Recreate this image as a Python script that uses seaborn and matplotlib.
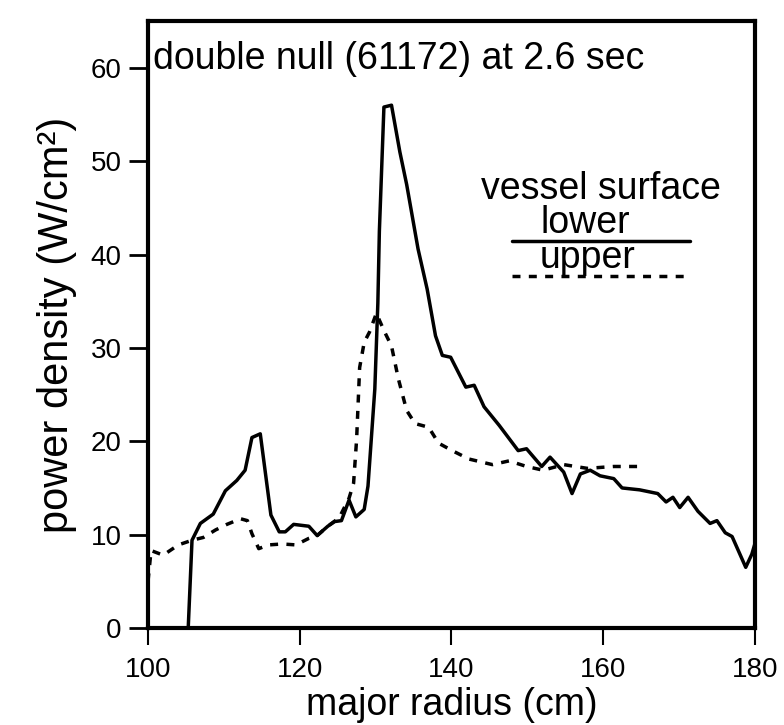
import matplotlib
matplotlib.use('Agg')

import pandas as pd
import seaborn as sns
import matplotlib.pyplot as plt

# lower vessel surface (solid)
lower_r = [105.3, 105.8, 106.9, 108.6, 110.2, 111.7, 112.8, 113.7, 114.8, 116.2,
           117.3, 118.1, 119.2, 121.2, 122.3, 123.7, 124.6, 125.5, 126.5, 127.4,
           128.5, 129.0, 129.9, 130.3, 130.5, 131.1, 132.1, 133.2, 134.1, 135.6,
           136.8, 137.9, 138.8, 139.9, 141.9, 143.0, 144.3, 146.3, 148.8, 149.9,
           151.9, 153.0, 154.8, 155.9, 157.0, 158.3, 159.6, 161.4, 162.5, 164.8,
           167.2, 168.3, 169.2, 170.1, 171.2, 172.5, 174.1, 175.0, 176.1, 177.0,
           178.8, 179.6, 180.0]
lower_p = [0.0, 9.4, 11.2, 12.2, 14.7, 15.8, 16.9, 20.4, 20.8, 12.1,
           10.3, 10.3, 11.1, 10.9, 9.9, 10.9, 11.4, 11.5, 13.7, 11.9,
           12.7, 15.2, 25.6, 34.8, 42.5, 55.8, 56.0, 51.0, 47.5, 40.6,
           36.3, 31.3, 29.2, 29.0, 25.8, 26.0, 23.7, 21.7, 19.0, 19.2,
           17.3, 18.3, 16.7, 14.4, 16.5, 16.9, 16.3, 16.0, 15.0, 14.8,
           14.4, 13.5, 14.0, 12.9, 14.0, 12.5, 11.2, 11.5, 10.2, 9.8,
           6.5, 7.9, 9.0]

# upper vessel surface (dashed)
upper_r = [100.0, 100.4, 102.0, 104.0, 105.8, 107.3, 108.9, 110.4, 112.2, 113.1,
           113.7, 114.6, 115.9, 117.7, 119.5, 121.2, 122.3, 123.7, 125.2, 126.5,
           127.1, 127.5, 127.9, 128.5, 129.2, 130.1, 131.2, 132.1, 133.0, 134.1,
           135.2, 137.0, 138.3, 140.1, 142.3, 145.4, 147.6, 149.9, 152.1, 154.8,
           157.9, 161.4, 165.0]
upper_p = [5.0, 8.3, 7.8, 8.9, 9.4, 9.7, 10.5, 11.1, 11.7, 11.5,
           10.1, 8.5, 8.9, 9.0, 8.9, 9.6, 9.9, 10.9, 11.8, 13.9,
           15.5, 20.2, 27.9, 30.6, 31.7, 33.7, 31.7, 30.2, 26.7, 23.3,
           21.9, 21.5, 19.8, 19.0, 18.1, 17.5, 17.9, 17.3, 16.9, 17.5,
           17.1, 17.3, 17.3]

x_ticks = [100, 120, 140, 160, 180]
y_ticks = [0, 10, 20, 30, 40, 50, 60]

sns.set_style('ticks')
plt.rcParams['font.family'] = ['Liberation Sans', 'DejaVu Sans']
plt.rcParams['text.color'] = 'black'
plt.rcParams['axes.labelcolor'] = 'black'
plt.rcParams['xtick.color'] = 'black'
plt.rcParams['ytick.color'] = 'black'

df_low = pd.DataFrame({'r': lower_r, 'p': lower_p})
df_up = pd.DataFrame({'r': upper_r, 'p': upper_p})

fig = plt.figure(figsize=(7.84, 7.25), dpi=100)
ax = fig.add_axes([0.1888, 0.1338, 0.774, 0.837])

dash = (0, (2.3, 2.4))
sns.lineplot(data=df_low, x='r', y='p', ax=ax, color='black', lw=2.5,
             sort=False, estimator=None)
sns.lineplot(data=df_up, x='r', y='p', ax=ax, color='black', lw=2.5,
             sort=False, estimator=None, linestyle=dash)

ax.set_xlim(100, 180)
ax.set_ylim(0, 65)
ax.set_xticks(x_ticks)
ax.set_yticks(y_ticks)
ax.tick_params(axis='x', labelsize=20, length=12, width=1.5, pad=9, direction='out')
ax.tick_params(axis='y', labelsize=20, length=14, width=2, pad=5, direction='out')
for s in ax.spines.values():
    s.set_linewidth(3)
    s.set_color('black')

ax.set_xlabel('major radius (cm)', fontsize=27, labelpad=3)
ax.set_ylabel('power density (W/cm²)', fontsize=30, labelpad=10)

ax.text(100.7, 59.9, 'double null (61172) at 2.6 sec', fontsize=27,
        ha='left', va='baseline')

# legend drawn by hand like the original
ax.text(159.7, 46.0, 'vessel surface', fontsize=27, ha='center', va='baseline')
ax.text(157.6, 42.3, 'lower', fontsize=27, ha='center', va='baseline')
ax.plot([148, 171.4], [41.5, 41.5], color='black', lw=2.5)
ax.text(158.0, 38.6, 'upper', fontsize=27, ha='center', va='baseline')
ax.plot([148, 171.4], [37.7, 37.7], color='black', lw=2.5, linestyle=dash)

fig.savefig('out.png', dpi=100)
